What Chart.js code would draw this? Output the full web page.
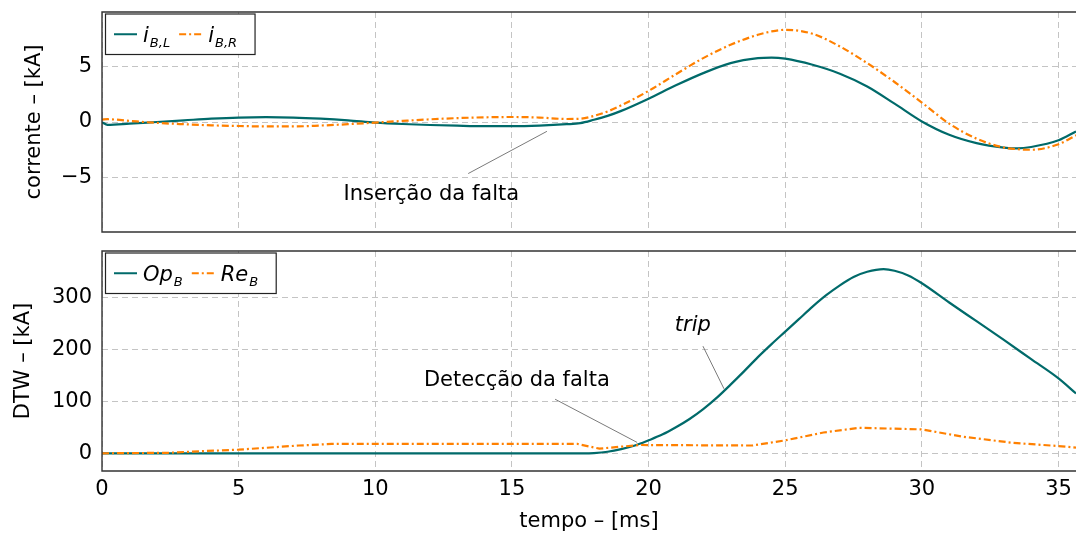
<!DOCTYPE html>
<html>
<head>
<meta charset="utf-8">
<script src="https://cdn.jsdelivr.net/npm/chart.js@4.4.1/dist/chart.umd.min.js"></script>
<style>
  body { margin: 0; background: #fff; }
  #wrap { position: relative; width: 1076px; height: 538px; }
  #topChart { position: absolute; left: 0; top: 0; }
  #bottomChart { position: absolute; left: 0; top: 240px; }
</style>
</head>
<body>
<div id="wrap">
  <canvas id="topChart" width="1076" height="240"></canvas>
  <canvas id="bottomChart" width="1076" height="298"></canvas>
</div>
<script>
// ---- data ----
const xTicks = [0, 5, 10, 15, 20, 25, 30, 35];
const xMax = 35.64;

// top panel: currents [kA] vs time [ms]
const currTime = [0, 0.2, 1, 2, 3, 4, 5, 6, 7, 8, 9, 10, 11, 12, 13, 14, 15, 16, 17, 17.5, 18, 18.5, 19, 20, 21, 22, 23, 24, 24.5, 25, 26, 27, 28, 29, 30, 31, 32, 33, 33.5, 34, 35, 35.64];
const iBL = [-0.02, -0.25, -0.15, 0.0, 0.15, 0.3, 0.4, 0.43, 0.4, 0.3, 0.15, -0.05, -0.18, -0.27, -0.33, -0.37, -0.37, -0.32, -0.2, -0.1, 0.2, 0.55, 1.0, 2.1, 3.3, 4.4, 5.3, 5.75, 5.8, 5.7, 5.15, 4.35, 3.2, 1.65, 0.05, -1.15, -1.9, -2.3, -2.38, -2.25, -1.65, -0.85];
const iBR = [0.22, 0.25, 0.1, -0.08, -0.2, -0.3, -0.36, -0.4, -0.4, -0.32, -0.2, -0.05, 0.1, 0.24, 0.35, 0.42, 0.45, 0.4, 0.27, 0.3, 0.55, 0.95, 1.5, 2.8, 4.3, 5.75, 6.95, 7.85, 8.15, 8.3, 7.94, 6.8, 5.3, 3.6, 1.75, -0.15, -1.5, -2.3, -2.45, -2.5, -2.0, -1.2];
const currTicks = [-5, 0, 5];

// bottom panel: DTW [kA]
const opTime = [0, 17.6, 18, 18.5, 19, 19.5, 20, 20.5, 21, 21.5, 22, 22.5, 23, 23.5, 24, 24.5, 25, 25.5, 26, 26.5, 27, 27.5, 28, 28.6, 29, 29.5, 30, 31, 32, 33, 34, 35, 35.64];
const opB = [0, 0, 0.5, 3, 8, 15, 25, 36, 50, 66, 85, 107, 132, 158, 185, 210, 234, 258, 282, 304, 323, 339, 349, 354, 351, 342, 327, 290, 254, 218, 181, 144, 115];
const reTime = [0, 2.4, 3.6, 5, 7.2, 8.4, 17.4, 18.2, 19.7, 23.8, 25, 26.4, 27.7, 30, 31.5, 33.35, 35, 35.64];
const reB = [0, 1, 4, 7, 15, 18, 18, 9, 16, 15, 25, 40, 49, 46, 32, 20, 14, 11];
const dtwTicks = [0, 100, 200, 300];

// ---- style ----
const FONT = '"DejaVu Sans", sans-serif';
const TEAL = '#006a6a';
const ORANGE = '#ff8000';
const GRID = '#c4c4c4';
const DASHDOT = [7, 3, 2, 3];

Chart.defaults.font.family = FONT;
Chart.defaults.font.size = 21;
Chart.defaults.color = '#000';

const pts = (xs, ys) => xs.map((x, i) => ({x: x, y: ys[i]}));
const fmt = v => v < 0 ? '\u2212' + Math.abs(v) : String(v);

// frame: top, left, bottom (right side runs off the picture)
const framePlugin = {
    id: 'frame',
    afterDatasetsDraw(chart) {
        const {ctx, chartArea: a} = chart;
        ctx.save();
        ctx.strokeStyle = '#333';
        ctx.lineWidth = 1.4;
        ctx.setLineDash([]);
        ctx.beginPath();
        ctx.moveTo(a.right, a.top);
        ctx.lineTo(a.left, a.top);
        ctx.lineTo(a.left, a.bottom);
        ctx.lineTo(a.right, a.bottom);
        ctx.stroke();
        ctx.restore();
    }
};

// legend with subscripts
function legendPlugin(items) {
    return {
        id: 'subLegend',
        afterDraw(chart) {
            const {ctx, chartArea: a} = chart;
            const x0 = a.left + 3.5, top = a.top + 2, h = 40.5;
            const mid = top + h / 2;
            ctx.save();
            let x = x0 + 8.5;
            const parts = [];
            items.forEach((it, i) => {
                ctx.font = 'italic 21px ' + FONT;
                const wm = ctx.measureText(it.main).width;
                ctx.font = 'italic 13px ' + FONT;
                const ws = ctx.measureText(it.sub).width;
                parts.push({it: it, x: x, wm: wm});
                x += 23 + 6 + wm + 1 + ws + (i < items.length - 1 ? 9 : 18);
            });
            ctx.fillStyle = '#fff';
            ctx.fillRect(x0, top, x - x0, h);
            ctx.strokeStyle = '#222';
            ctx.lineWidth = 1.2;
            ctx.strokeRect(x0, top, x - x0, h);
            parts.forEach(p => {
                ctx.strokeStyle = p.it.color;
                ctx.lineWidth = 2;
                ctx.setLineDash(p.it.dash);
                ctx.beginPath();
                ctx.moveTo(p.x, mid);
                ctx.lineTo(p.x + 23, mid);
                ctx.stroke();
                ctx.setLineDash([]);
                ctx.fillStyle = '#000';
                ctx.textBaseline = 'alphabetic';
                ctx.textAlign = 'left';
                ctx.font = 'italic 21px ' + FONT;
                ctx.fillText(p.it.main, p.x + 29, mid + 7.5);
                ctx.font = 'italic 13px ' + FONT;
                ctx.fillText(p.it.sub, p.x + 29 + p.wm + 1, mid + 12.5);
            });
            ctx.restore();
        }
    };
}

// annotations placed in data units
function notePlugin(notes) {
    return {
        id: 'notes',
        afterDatasetsDraw(chart) {
            const {ctx, scales: {x, y}} = chart;
            ctx.save();
            notes.forEach(n => {
                ctx.strokeStyle = '#7a7a7a';
                ctx.lineWidth = 1;
                ctx.beginPath();
                ctx.moveTo(x.getPixelForValue(n.from[0]), y.getPixelForValue(n.from[1]));
                ctx.lineTo(x.getPixelForValue(n.to[0]), y.getPixelForValue(n.to[1]));
                ctx.stroke();
                ctx.fillStyle = '#000';
                ctx.font = (n.italic ? 'italic ' : '') + '21px ' + FONT;
                ctx.textAlign = 'center';
                ctx.textBaseline = 'alphabetic';
                ctx.fillText(n.text, x.getPixelForValue(n.at[0]), y.getPixelForValue(n.at[1]));
            });
            ctx.restore();
        }
    };
}

function xScale(showLabels, height) {
    return {
        type: 'linear', min: 0, max: xMax,
        afterBuildTicks: s => { s.ticks = xTicks.map(v => ({value: v})); },
        afterFit: s => { s.height = height; s.paddingLeft = 0; s.paddingRight = 0; },
        ticks: { display: showLabels, autoSkip: false, maxRotation: 0, padding: 6 },
        grid: { color: GRID, drawTicks: false, lineWidth: 1 },
        border: { display: false, dash: [6, 4] },
        title: { display: showLabels, text: 'tempo \u2013 [ms]', font: {size: 21}, padding: {top: 0, bottom: 4} }
    };
}

function yScale(lo, hi, ticks, title, titlePad) {
    return {
        min: lo, max: hi,
        afterBuildTicks: s => { s.ticks = ticks.map(v => ({value: v})); },
        afterFit: s => { s.width = 102; s.paddingTop = 0; s.paddingBottom = 0; },
        ticks: { padding: 10, callback: v => fmt(v) },
        grid: { color: GRID, drawTicks: false, lineWidth: 1 },
        border: { display: false, dash: [6, 4] },
        title: { display: true, text: title, font: {size: 21}, padding: {top: titlePad, bottom: 0} }
    };
}

function line(label, data, color, dash, smooth, order) {
    return {
        label: label, data: data, borderColor: color, borderWidth: 2.2,
        borderDash: dash, pointRadius: 0, fill: false, order: order,
        tension: smooth ? 0.4 : 0, cubicInterpolationMode: smooth ? 'monotone' : 'default'
    };
}

const common = {
    responsive: false,
    animation: false,
    plugins: { legend: { display: false }, tooltip: { enabled: false } }
};

new Chart(document.getElementById('topChart'), {
    type: 'line',
    data: {
        datasets: [
            line('iB,L', pts(currTime, iBL), TEAL, [], true, 1),
            line('iB,R', pts(currTime, iBR), ORANGE, DASHDOT, true, 0)
        ]
    },
    options: Object.assign({}, common, {
        layout: { padding: { top: 12, left: 0, right: 0, bottom: 0 } },
        scales: {
            x: xScale(false, 8),
            y: yScale(-9.9, 9.9, currTicks, 'corrente \u2013 [kA]', 22)
        }
    }),
    plugins: [
        framePlugin,
        notePlugin([
            { text: 'Inserção da falta', at: [12.05, -6.99], from: [13.4, -4.64], to: [16.28, -0.84] }
        ]),
        legendPlugin([
            { main: 'i', sub: 'B,L', color: TEAL, dash: [] },
            { main: 'i', sub: 'B,R', color: ORANGE, dash: DASHDOT }
        ])
    ]
});

new Chart(document.getElementById('bottomChart'), {
    type: 'line',
    data: {
        datasets: [
            line('OpB', pts(opTime, opB), TEAL, [], true, 1),
            line('ReB', pts(reTime, reB), ORANGE, DASHDOT, false, 0)
        ]
    },
    options: Object.assign({}, common, {
        layout: { padding: { top: 11, left: 0, right: 0, bottom: 0 } },
        scales: {
            x: xScale(true, 67),
            y: yScale(-34, 389, dtwTicks, 'DTW \u2013 [kA]', 11)
        }
    }),
    plugins: [
        framePlugin,
        notePlugin([
            { text: 'Detecção da falta', at: [15.18, 128.5], from: [16.58, 104], to: [19.58, 21] },
            { text: 'trip', italic: true, at: [21.62, 236], from: [21.99, 206], to: [22.76, 124] }
        ]),
        legendPlugin([
            { main: 'Op', sub: 'B', color: TEAL, dash: [] },
            { main: 'Re', sub: 'B', color: ORANGE, dash: DASHDOT }
        ])
    ]
});
</script>
</body>
</html>
